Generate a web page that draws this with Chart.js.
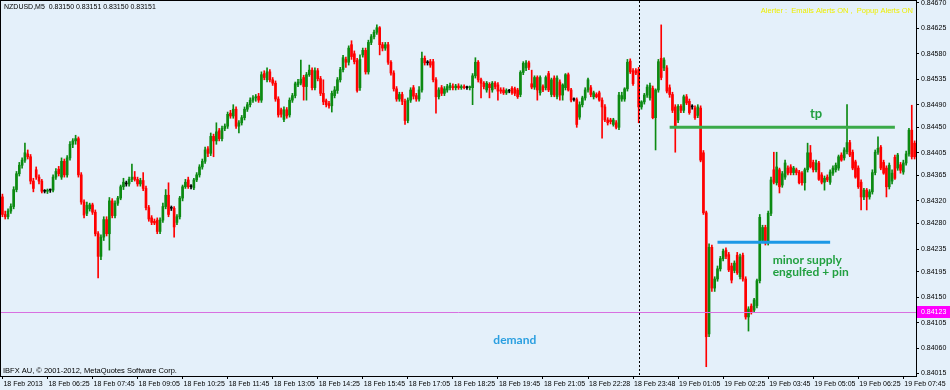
<!DOCTYPE html>
<html>
<head>
<meta charset="utf-8">
<title>NZDUSD,M5</title>
<script src="https://cdn.jsdelivr.net/npm/chart.js@4.4.1/dist/chart.umd.min.js"></script>
<style>
  html, body { margin: 0; padding: 0; background: #e4f0fa; }
  canvas { display: block; }
</style>
</head>
<body>
<canvas id="chart" width="950" height="390"></canvas>
<script>
// Candle prices, in points above 0.84000 (one row per axis label = 16 bars)
const opens = [
  327,296,292,302,310,340,368,383,392,403,398,355,375,362,355,337,
  337,339,339,362,376,362,390,366,396,420,426,430,366,318,298,306,
  313,300,262,222,256,287,262,320,294,316,325,345,350,350,358,362,
  358,350,356,342,308,290,284,286,266,286,310,330,307,307,282,292,
  325,345,357,345,343,357,366,380,390,412,404,434,426,444,430,448,
  452,475,470,482,452,458,467,482,490,498,502,505,498,545,534,548,
  534,528,500,481,464,481,472,498,506,525,528,538,522,543,551,520,
  550,536,510,497,492,488,506,515,534,552,570,565,596,580,568,520,
  578,586,548,600,610,618,626,596,590,596,565,546,518,500,508,496,
  462,498,520,506,500,516,572,564,566,566,534,504,520,510,516,520,
  522,520,523,520,522,520,520,520,541,565,534,528,516,526,516,528,
  525,516,516,511,514,519,518,516,508,547,555,564,527,521,538,511,
  522,520,545,508,537,504,530,507,520,543,516,499,499,468,490,502,
  516,520,504,508,511,498,486,463,463,455,458,450,500,500,518,567,
  550,550,552,486,495,507,502,519,467,516,572,555,555,520,508,486,
  463,487,480,504,496,486,484,471,484,405,299,85,238,166,182,200,
  218,233,225,205,197,224,186,224,182,115,134,127,135,179,250,273,
  246,298,375,352,375,348,362,378,380,370,375,371,369,352,375,405,
  388,375,387,366,353,362,353,369,375,378,401,396,407,423,406,389,
  378,353,327,339,327,336,370,406,415,388,378,345,355,397,378,384,
  371,387,403,445,422
];
const highs = [
  332,302,306,315,345,372,388,396,422,410,402,360,380,366,358,340,
  341,341,366,377,381,396,394,400,425,430,436,433,370,322,318,316,
  316,304,266,260,292,292,326,324,320,328,348,360,355,362,385,372,
  362,360,370,346,312,294,288,290,290,316,340,352,311,310,296,328,
  348,358,362,349,360,370,384,394,415,416,440,438,458,448,452,456,
  477,480,490,486,462,471,486,494,502,506,508,510,548,550,555,552,
  538,532,504,484,486,485,502,510,530,535,569,542,547,560,555,555,
  554,540,534,500,496,514,522,538,556,577,574,594,603,585,572,578,
  590,590,604,614,622,631,628,600,600,600,568,550,522,512,512,500,
  502,520,524,510,522,583,576,568,570,570,538,520,524,522,526,528,
  527,526,527,525,525,523,523,545,573,568,537,531,531,529,531,531,
  529,520,520,518,517,522,521,519,550,566,568,567,551,541,541,541,
  525,541,549,537,541,541,534,527,545,546,519,502,502,495,505,520,
  537,524,514,511,514,502,490,467,466,466,462,512,512,520,570,571,
  554,554,556,497,510,525,528,523,518,570,631,573,559,525,512,490,
  490,490,507,508,500,490,488,490,488,409,302,244,242,186,205,222,
  235,237,229,210,214,229,226,228,186,133,138,148,182,296,277,277,
  302,362,406,406,378,372,392,382,384,381,378,374,372,378,422,418,
  392,392,390,370,364,366,375,382,387,401,405,414,490,427,410,392,
  382,357,342,342,340,375,410,433,418,392,382,387,375,401,404,388,
  392,408,448,489,426
];
const lows = [
  292,288,288,298,306,336,364,378,388,394,350,336,358,350,334,334,
  333,335,336,358,364,358,362,362,392,414,420,362,314,290,294,302,
  296,258,184,216,250,258,233,290,290,312,322,340,346,346,354,355,
  346,346,338,304,284,278,278,262,262,282,306,292,303,256,278,288,
  320,342,342,341,340,354,362,376,386,398,400,398,420,426,426,444,
  448,466,466,448,440,454,463,478,486,494,496,494,494,534,530,530,
  524,496,468,468,460,466,468,494,502,522,525,498,498,540,516,516,
  532,506,490,486,484,477,502,510,530,548,556,560,570,562,512,515,
  574,544,544,596,606,614,578,585,586,561,542,514,496,496,490,455,
  458,494,500,496,496,512,560,560,556,530,475,500,506,506,512,516,
  516,516,517,517,518,517,516,490,537,530,502,518,512,502,512,518,
  498,510,508,508,511,508,506,501,504,543,550,552,518,517,498,507,
  513,516,513,504,504,500,498,498,516,514,495,496,450,464,486,498,
  512,504,500,502,496,431,460,454,456,452,447,446,496,496,514,545,
  524,543,458,482,491,503,498,465,410,512,534,550,511,503,476,406,
  458,476,476,490,473,482,464,467,389,296,27,80,160,160,178,196,
  214,218,195,175,193,190,182,178,111,90,120,123,131,175,246,242,
  242,294,350,348,334,344,358,366,366,366,366,350,348,339,371,378,
  371,371,356,350,339,354,349,365,371,374,390,392,403,398,375,360,
  342,304,322,304,323,332,366,402,375,367,327,341,350,358,374,369,
  367,383,399,394,394
];
const closes = [
  296,292,302,310,340,368,383,392,405,398,355,342,362,355,337,337,
  339,339,362,372,368,390,366,396,420,426,430,366,318,295,312,313,
  300,262,222,256,287,262,320,294,316,325,345,353,350,358,362,358,
  350,356,342,308,288,282,281,266,286,310,330,296,307,274,292,325,
  345,353,345,345,357,366,380,390,410,404,434,426,442,430,448,452,
  473,470,482,452,458,467,482,490,498,502,504,498,543,538,548,534,
  528,500,472,473,481,470,498,506,527,530,535,522,543,551,520,550,
  536,510,495,490,488,510,516,534,552,573,565,590,575,566,515,570,
  586,548,600,610,618,626,596,590,596,565,546,518,500,508,496,462,
  498,516,505,500,516,572,564,564,560,534,504,516,510,518,522,524,
  520,523,520,522,520,520,521,541,565,534,528,522,528,520,528,522,
  514,514,511,515,514,511,510,504,547,563,564,556,521,538,516,538,
  516,538,516,534,507,537,507,525,543,516,498,499,455,490,502,516,
  534,508,511,504,498,486,463,458,460,463,450,507,506,518,565,548,
  527,546,486,495,507,521,524,467,516,566,538,569,514,508,480,450,
  487,480,504,493,476,486,467,486,392,299,80,238,166,182,200,218,
  231,222,198,180,210,193,221,182,115,129,123,145,179,291,273,246,
  298,357,353,380,345,368,387,369,370,378,370,352,352,375,405,380,
  375,387,358,353,360,357,371,378,383,398,392,410,423,401,378,362,
  345,327,339,327,336,370,406,413,378,369,345,383,369,360,401,374,
  387,403,445,398,398
];

const timeLabels = [
  '18 Feb 2013', '18 Feb 06:25', '18 Feb 07:45', '18 Feb 09:05', '18 Feb 10:25',
  '18 Feb 11:45', '18 Feb 13:05', '18 Feb 14:25', '18 Feb 15:45', '18 Feb 17:05',
  '18 Feb 18:25', '18 Feb 19:45', '18 Feb 21:05', '18 Feb 22:28', '18 Feb 23:48',
  '19 Feb 01:05', '19 Feb 02:25', '19 Feb 03:45', '19 Feb 05:05', '19 Feb 06:25',
  '19 Feb 07:45'
];
const barsPerLabel = 16;

const priceTicks = [
  0.84670, 0.84625, 0.84580, 0.84535, 0.84490, 0.84450, 0.84405, 0.84365,
  0.84320, 0.84280, 0.84235, 0.84195, 0.84150, 0.84105, 0.84060, 0.84015
];

// levels drawn on the chart
const tpLevel = 0.84450, tpBars = [237, 317];
const supplyLevel = 0.84247, supplyBars = [254, 294];
const bidLevel = 0.84123;
const dayBreakBar = 226;

const notes = [
  { text: 'tp', bar: 289, price: 0.84473, color: '#22a040', size: 13, align: 'center' },
  { text: 'minor supply', bar: 273.6, price: 0.84216, color: '#22a040', size: 12, align: 'left' },
  { text: 'engulfed + pin', bar: 273.6, price: 0.84195, color: '#22a040', size: 12, align: 'left' },
  { text: 'demand', bar: 182, price: 0.84074, color: '#2a9fe0', size: 12, align: 'center' }
];

const BG = '#e4f0fa';
const BULL = '#0c8a12';
const BEAR = '#ff0000';
const DOJI = '#000000';
const UI_FONT = "'Liberation Sans', Arial, sans-serif";
const NOTE_FONT = "Lato, 'Liberation Sans', sans-serif";

const toPrice = p => +(0.84 + p * 0.00001).toFixed(5);

const candleColors = closes.map((c, i) => c > opens[i] ? BULL : (c < opens[i] ? BEAR : DOJI));
const wickData = lows.map((l, i) => [toPrice(l), toPrice(highs[i])]);
const bodyData = opens.map((o, i) => [toPrice(o), toPrice(closes[i])]);

const backdrop = {
  id: 'backdrop',
  beforeDraw(chart) {
    const ctx = chart.ctx;
    ctx.save();
    ctx.fillStyle = BG;
    ctx.fillRect(0, 0, chart.width, chart.height);
    ctx.restore();
  }
};

const overlays = {
  id: 'overlays',
  afterDatasetsDraw(chart) {
    const { ctx, chartArea: a, scales: { x, y } } = chart;
    ctx.save();

    // bid line
    ctx.strokeStyle = '#d870e0';
    ctx.lineWidth = 1;
    let py = Math.round(y.getPixelForValue(bidLevel)) + 0.5;
    ctx.beginPath(); ctx.moveTo(a.left, py); ctx.lineTo(a.right, py); ctx.stroke();

    // day separator
    const sx = Math.round(x.getPixelForValue(dayBreakBar)) + 0.5;
    ctx.strokeStyle = '#000';
    ctx.setLineDash([2, 2]);
    ctx.beginPath(); ctx.moveTo(sx, a.top); ctx.lineTo(sx, a.bottom); ctx.stroke();
    ctx.setLineDash([]);

    // tp and supply levels
    ctx.lineWidth = 3;
    ctx.strokeStyle = '#3aaa48';
    py = y.getPixelForValue(tpLevel);
    ctx.beginPath();
    ctx.moveTo(x.getPixelForValue(tpBars[0]), py);
    ctx.lineTo(x.getPixelForValue(tpBars[1]), py);
    ctx.stroke();
    ctx.strokeStyle = '#1c98e6';
    py = y.getPixelForValue(supplyLevel);
    ctx.beginPath();
    ctx.moveTo(x.getPixelForValue(supplyBars[0]), py);
    ctx.lineTo(x.getPixelForValue(supplyBars[1]), py);
    ctx.stroke();

    // notes
    ctx.textBaseline = 'middle';
    notes.forEach(n => {
      ctx.fillStyle = n.color;
      ctx.textAlign = n.align;
      ctx.font = 'bold ' + n.size + 'px ' + NOTE_FONT;
      ctx.fillText(n.text, x.getPixelForValue(n.bar), y.getPixelForValue(n.price));
    });
    ctx.restore();
  },
  afterDraw(chart) {
    const { ctx, chartArea: a, scales: { y } } = chart;
    ctx.save();
    // frame
    ctx.strokeStyle = '#000';
    ctx.lineWidth = 1;
    ctx.strokeRect(0.5, 0.5, a.right, a.bottom);

    // bid price box
    const by = Math.round(y.getPixelForValue(bidLevel));
    ctx.fillStyle = '#ff00ff';
    ctx.fillRect(a.right + 1, by - 6, chart.width - a.right - 1, 12);
    ctx.fillStyle = '#fff';
    ctx.font = '7px ' + UI_FONT;
    ctx.textBaseline = 'middle';
    ctx.textAlign = 'left';
    ctx.fillText(bidLevel.toFixed(5), a.right + 5, by);

    // header, footer
    ctx.fillStyle = '#000';
    ctx.fillText('NZDUSD,M5  0.83150 0.83151 0.83150 0.83151', a.left + 3, a.top + 6);
    ctx.font = '7.5px ' + UI_FONT;
    ctx.fillText('IBFX AU, \u00a9 2001-2012, MetaQuotes Software Corp.', a.left + 2, a.bottom - 5);
    ctx.fillStyle = '#eeee00';
    ctx.textAlign = 'right';
    ctx.fillText('Alerter :  Emails Alerts ON ,  Popup Alerts ON', a.right - 3, a.top + 10);
    ctx.restore();
  }
};

new Chart(document.getElementById('chart'), {
  type: 'bar',
  data: {
    labels: closes.map((_, i) => i),
    datasets: [
      { data: wickData, backgroundColor: candleColors, barThickness: 1, grouped: false, order: 2 },
      { data: bodyData, backgroundColor: candleColors, barThickness: 2, grouped: false, order: 1, minBarLength: 1 }
    ]
  },
  options: {
    responsive: false,
    animation: false,
    events: [],
    layout: { padding: { left: 1, top: 1, right: 0, bottom: 0 } },
    plugins: { legend: { display: false }, tooltip: { enabled: false } },
    scales: {
      x: {
        offset: true,
        grid: { drawOnChartArea: false, offset: false, tickLength: 3, color: '#000' },
        border: { display: false },
        ticks: {
          autoSkip: false,
          maxRotation: 0,
          align: 'start',
          padding: 1,
          labelOffset: 1,
          color: '#000',
          font: { family: UI_FONT, size: 7 },
          callback: (v, i) => i % barsPerLabel === 0 ? timeLabels[i / barsPerLabel] : null
        },
        afterFit: s => { s.height = 14; s.paddingLeft = 0; s.paddingRight = 0; }
      },
      y: {
        position: 'right',
        min: 0.840106,
        max: 0.846732,
        grid: { drawOnChartArea: false, tickLength: 3, color: '#000' },
        border: { display: false },
        ticks: {
          padding: 2,
          color: '#000',
          font: { family: UI_FONT, size: 7 },
          callback: v => v.toFixed(5)
        },
        afterBuildTicks: s => { s.ticks = priceTicks.map(v => ({ value: v })); },
        afterFit: s => { s.width = 34; s.paddingTop = 0; s.paddingBottom = 0; }
      }
    }
  },
  plugins: [backdrop, overlays]
});
</script>
</body>
</html>
